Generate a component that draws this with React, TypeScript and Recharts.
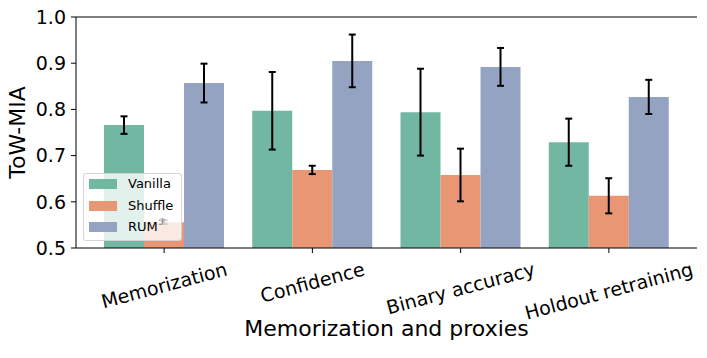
import React from 'react';
import { BarChart, Bar, XAxis, YAxis, ErrorBar, Legend, ReferenceLine, Label } from 'recharts';

const categories = ['Memorization', 'Confidence', 'Binary accuracy', 'Holdout retraining'];
const vanilla = [0.766, 0.797, 0.794, 0.729];
const vanillaErr = [0.019, 0.084, 0.094, 0.051];
const shuffle = [0.556, 0.669, 0.658, 0.613];
const shuffleErr = [0.004, 0.009, 0.057, 0.038];
const rum = [0.857, 0.905, 0.892, 0.827];
const rumErr = [0.042, 0.057, 0.041, 0.037];
const yTicks = [0.5, 0.6, 0.7, 0.8, 0.9, 1.0];

const FONT = '"DejaVu Sans", sans-serif';
const GREEN = '#71b7a1';
const ORANGE = '#e99675';
const BLUE = '#95a3c3';
const TICK_SIZE = 19;

const data = categories.map((name, i) => ({
  name,
  vanilla: vanilla[i],
  vanillaErr: vanillaErr[i],
  shuffle: shuffle[i],
  shuffleErr: shuffleErr[i],
  rum: rum[i],
  rumErr: rumErr[i],
}));

const measure = (text: string) => {
  const ctx = document.createElement('canvas').getContext('2d');
  if (!ctx) return text.length * 12;
  ctx.font = `${TICK_SIZE}px "DejaVu Sans"`;
  return ctx.measureText(text).width;
};

// rotated tick labels, bbox centred under the tick like matplotlib does
const XTick = ({ x, y, payload }: any) => {
  const w = measure(payload.value);
  const a = (15 * Math.PI) / 180;
  const h = w * Math.sin(a) + 14 * Math.cos(a);
  const cy = y + 6.5 + h / 2;
  return (
    <text
      x={x}
      y={cy}
      textAnchor="middle"
      dominantBaseline="central"
      transform={`rotate(-15, ${x}, ${cy})`}
      fontSize={TICK_SIZE}
      fontFamily={FONT}
      fill="#000"
    >
      {payload.value}
    </text>
  );
};

const legendItems = [
  { label: 'Vanilla', color: GREEN },
  { label: 'Shuffle', color: ORANGE },
  { label: 'RUM', color: BLUE, sup: 'ℱ' },
];

const LegendBox = () => (
  <div
    style={{
      position: 'relative',
      width: 99,
      height: 68,
      boxSizing: 'border-box',
      border: '1px solid rgba(204,204,204,0.8)',
      borderRadius: 3,
      background: 'rgba(255,255,255,0.8)',
      fontFamily: FONT,
      fontSize: 13,
    }}
  >
    {legendItems.map((item, i) => (
      <div
        key={item.label}
        style={{ position: 'absolute', left: 5, top: 10 + i * 21.5 - 8, height: 16, display: 'flex', alignItems: 'center' }}
      >
        <div style={{ width: 28, height: 10, background: item.color }} />
        <span style={{ marginLeft: 11, color: '#000', lineHeight: '16px', whiteSpace: 'nowrap' }}>
          {item.label}
          {item.sup && (
            <span style={{ fontSize: 9, color: '#666', position: 'relative', top: -6, marginLeft: 1 }}>{item.sup}</span>
          )}
        </span>
      </div>
    ))}
  </div>
);

export default function App() {
  return (
    <div style={{ position: 'absolute', left: 0, top: 0, width: 707, height: 358, background: '#fff' }}>
      <BarChart
        width={707}
        height={358}
        data={data}
        margin={{ top: 17, right: 10, left: 0, bottom: 0 }}
        barGap={0}
        barSize={40}
      >
        <XAxis
          dataKey="name"
          height={110}
          padding={{ left: 14, right: 14 }}
          tick={<XTick />}
          tickSize={5}
          tickLine={{ stroke: '#000' }}
          axisLine={{ stroke: '#000' }}
          interval={0}
        >
          <Label
            content={() => (
              <text x={386.5} y={336} textAnchor="middle" fontSize={22} fontFamily={FONT} fill="#000">
                Memorization and proxies
              </text>
            )}
          />
        </XAxis>
        <YAxis
          width={76}
          domain={[0.5, 1]}
          ticks={yTicks}
          allowDataOverflow
          tickFormatter={(v: number) => v.toFixed(1)}
          tick={{ fontSize: TICK_SIZE, fontFamily: FONT, fill: '#000' }}
          tickSize={5}
          tickMargin={5}
          tickLine={{ stroke: '#000' }}
          axisLine={{ stroke: '#000' }}
        >
          <Label
            content={() => (
              <text
                x={17}
                y={132.5}
                textAnchor="middle"
                dominantBaseline="central"
                transform="rotate(-90, 17, 132.5)"
                fontSize={22}
                fontFamily={FONT}
                fill="#000"
              >
                ToW-MIA
              </text>
            )}
          />
        </YAxis>
        <YAxis
          yAxisId="right"
          orientation="right"
          width={0}
          domain={[0.5, 1]}
          tick={false}
          tickLine={false}
          axisLine={{ stroke: '#000' }}
        />
        <ReferenceLine y={1} stroke="#000" strokeWidth={1} />
        <Bar dataKey="vanilla" name="Vanilla" fill={GREEN} isAnimationActive={false}>
          <ErrorBar dataKey="vanillaErr" direction="y" width={3.5} strokeWidth={2} stroke="#000" />
        </Bar>
        <Bar dataKey="shuffle" name="Shuffle" fill={ORANGE} isAnimationActive={false}>
          <ErrorBar dataKey="shuffleErr" direction="y" width={3.5} strokeWidth={2} stroke="#000" />
        </Bar>
        <Bar dataKey="rum" name="RUM" fill={BLUE} isAnimationActive={false}>
          <ErrorBar dataKey="rumErr" direction="y" width={3.5} strokeWidth={2} stroke="#000" />
        </Bar>
        <Legend
          layout="horizontal"
          verticalAlign="middle"
          align="center"
          content={<LegendBox />}
          wrapperStyle={{ position: 'absolute', left: 83, top: 173, width: 99, height: 68, bottom: 'auto' }}
        />
      </BarChart>
    </div>
  );
}
